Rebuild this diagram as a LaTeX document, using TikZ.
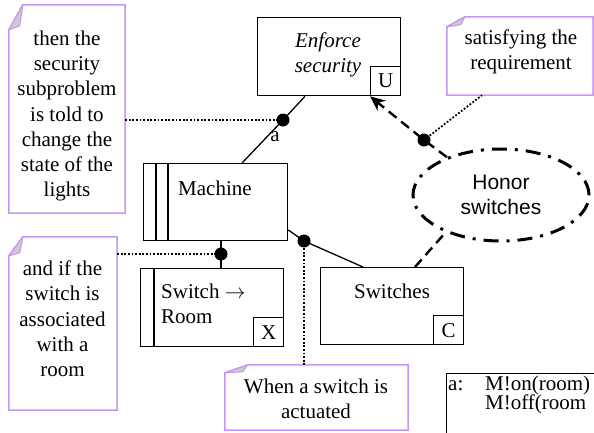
\documentclass[tikz,border=0pt]{standalone}
\usepackage{fontspec}
\setmainfont{Liberation Serif}
\setsansfont{Liberation Sans}
\usetikzlibrary{arrows.meta,shapes.geometric}
\definecolor{notepurple}{RGB}{196,150,245}
\begin{document}
\begin{tikzpicture}[x=1pt,y=-1pt,
  font=\fontsize{21}{25.3}\selectfont,
  box/.style={draw, line width=1.3pt, anchor=north west, inner sep=0pt},
  tag/.style={draw, line width=1.3pt, minimum width=30pt, minimum height=29pt, anchor=south east, inner sep=0pt},
  dotn/.style={circle, fill, inner sep=0pt, minimum size=13pt},
  notearea/.style={inner sep=0pt},
  notebox/.style={draw=notepurple, line width=1.5pt, fill=white},
  fold/.style={fill=gray!40, draw=notepurple, line width=1pt, line join=round},
  notetext/.style={align=center, inner sep=0pt},
  link/.style={line width=1.3pt},
  dotline/.style={line width=1.8pt, dash pattern=on 1.8pt off 1.8pt},
  dashlink/.style={line width=2.4pt, dash pattern=on 10pt off 6pt},
  honor/.style={ellipse, draw, line width=3pt, dash pattern=on 15pt off 8pt on 3pt off 8pt,
    minimum width=176pt, minimum height=92pt, inner sep=0pt, align=center, font=\sffamily\fontsize{21}{25.3}\selectfont}
]
\useasboundingbox (0,0) rectangle (594,432);
\clip (0,0) rectangle (594,432);

% ---------- notes ----------
\node[notearea, minimum width=116pt, minimum height=208pt] (n1) at (67,109) {};
\draw[notebox] ([xshift=14pt]n1.north west) -- (n1.north east) -- (n1.south east) -- (n1.south west) -- ([yshift=-25pt]n1.north west) -- cycle;
\draw[fold] ([xshift=14pt]n1.north west) -- ([yshift=-25pt]n1.north west) -- ([xshift=11pt,yshift=-21pt]n1.north west) -- cycle;
\node[notetext] (n1t) at (67,116) {then the\\security\\subproblem\\is told to\\change the\\state of the\\lights};

\node[notearea, minimum width=146pt, minimum height=78pt] (n2) at (520,56) {};
\draw[notebox] ([xshift=18pt]n2.north west) -- (n2.north east) -- (n2.south east) -- (n2.south west) -- ([yshift=-10pt]n2.north west) -- cycle;
\draw[fold] ([xshift=18pt]n2.north west) -- ([yshift=-10pt]n2.north west) -- ([xshift=14pt,yshift=-8pt]n2.north west) -- cycle;
\node[notetext] (n2t) at (521,51.5) {satisfying the\\requirement};

\node[notearea, minimum width=108pt, minimum height=173pt] (n3) at (63,323.5) {};
\draw[notebox] ([xshift=14pt]n3.north west) -- (n3.north east) -- (n3.south east) -- (n3.south west) -- ([yshift=-19pt]n3.north west) -- cycle;
\draw[fold] ([xshift=14pt]n3.north west) -- ([yshift=-19pt]n3.north west) -- ([xshift=11pt,yshift=-16pt]n3.north west) -- cycle;
\node[notetext] (n3t) at (62.5,319) {and if the\\switch is\\associated\\with a\\room};

\node[notearea, minimum width=183pt, minimum height=65pt] (n4) at (316.5,397.5) {};
\draw[notebox] ([xshift=23pt]n4.north west) -- (n4.north east) -- (n4.south east) -- (n4.south west) -- ([yshift=-8pt]n4.north west) -- cycle;
\draw[fold] ([xshift=23pt]n4.north west) -- ([yshift=-8pt]n4.north west) -- ([xshift=18pt,yshift=-7pt]n4.north west) -- cycle;
\node[notetext] (n4t) at (316,398.5) {When a switch is\\actuated};

% ---------- domains ----------
\node[box, minimum width=143pt, minimum height=78pt] (es) at (257,17) {};
\node[align=center, inner sep=0pt, font=\itshape\fontsize{21}{25.3}\selectfont] (est) at (328,55) {Enforce\\security};
\node[tag] (esU) at (es.south east) {U};

\node[box, minimum width=144pt, minimum height=77pt] (m) at (143,163) {};
\draw[link] (m.north west -| 156,0) -- (m.south west -| 156,0);
\draw[link] (m.north west -| 168,0) -- (m.south west -| 168,0);
\node[anchor=west, inner sep=0pt] (mt) at (178,188) {Machine};

\node[box, minimum width=143pt, minimum height=78pt] (sr) at (140,268) {};
\draw[link] (sr.north west -| 154,0) -- (sr.south west -| 154,0);
\node[anchor=west, align=left, inner sep=0pt] (srt) at (161,304) {Switch $\rightarrow$\\Room};
\node[tag] (srX) at (sr.south east) {X};

\node[box, minimum width=143pt, minimum height=77pt] (sw) at (320,267) {};
\node[inner sep=0pt] (swt) at (392,291) {Switches};
\node[tag] (swC) at (sw.south east) {C};

\node[honor] (hs) at (501,195) {Honor\\switches};

% ---------- dots ----------
\node[dotn] (d1) at (283,120) {};
\node[dotn] (d2) at (221,254) {};
\node[dotn] (d3) at (304,241) {};
\node[dotn] (d4) at (424,140) {};

% ---------- connectors ----------
\draw[link] (m.north -| 242,0) -- (d1.center) -- (es.south -| 305,0);
\node[inner sep=0pt] (la) at (275,137) {a};
\draw[dotline] (n1.east |- d1) -- (d1.center);

\draw[link] (m.south -| d2) -- (d2.center) -- (sr.north -| d2);
\draw[dotline] (n3.east |- d2) -- (d2.center);

\draw[link] (m.east |- 0,230) -- (d3.center) -- (sw.north -| 363,0);
\draw[dotline] (d3.center) -- (n4.north -| d3);

\draw[dashlink, -{Stealth[length=15pt,width=13pt]}] (hs.145) -- (d4.center) -- (esU.south west);
\draw[dotline] (d4.center) -- (n2.south -| 482,0);

\draw[dashlink] (sw.north -| 415,0) -- (hs.214);

% ---------- legend ----------
\node[draw, line width=0.8pt, anchor=north west, minimum width=170pt, minimum height=80pt, inner sep=0pt] (leg) at (446,373) {};
\node[anchor=base west, inner sep=0pt] (lga) at (448,390) {a:};
\node[anchor=base west, inner sep=0pt] (lg1) at (485,390) {M!on(room)};
\node[anchor=base west, inner sep=0pt] (lg2) at (485,409) {M!off(room};
\end{tikzpicture}
\end{document}
